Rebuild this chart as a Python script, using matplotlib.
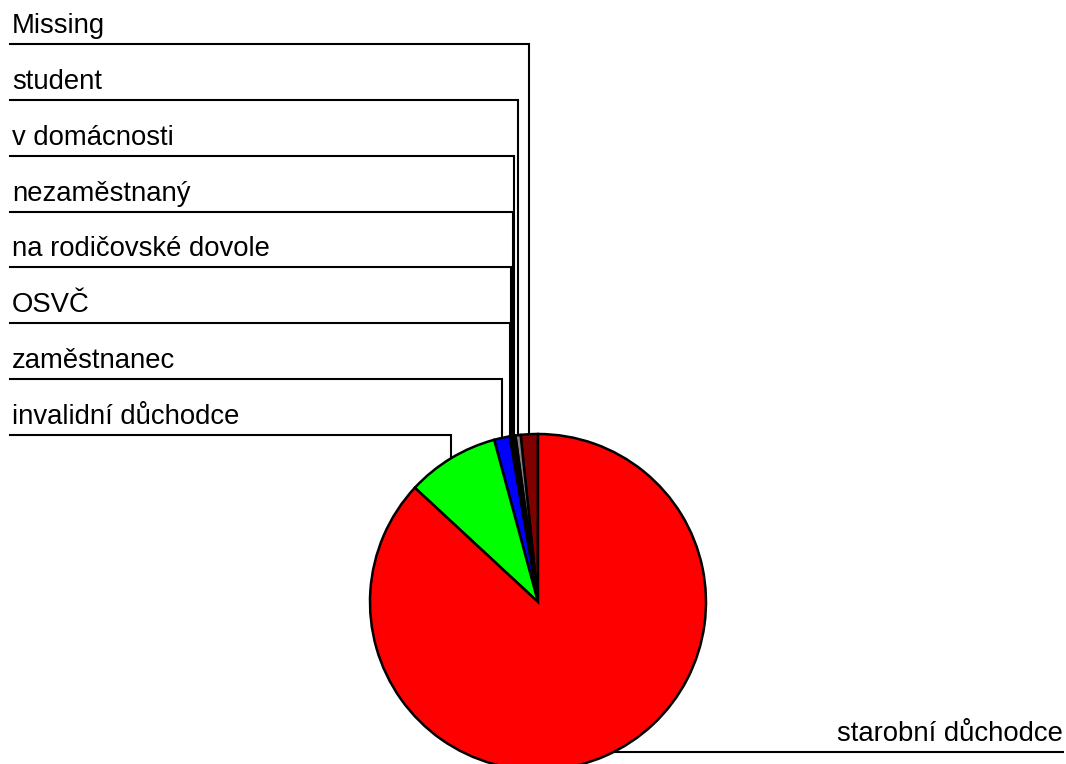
import numpy as np
import matplotlib.pyplot as plt

plt.rcParams['font.family'] = ['Liberation Sans', 'DejaVu Sans']

# podíly jednotlivých skupin (v %), pořadí proti směru hodinových ručiček od vrcholu
labels = ['Missing', 'student', 'v domácnosti', 'nezaměstnaný',
          'na rodičovské dovole', 'OSVČ', 'zaměstnanec',
          'invalidní důchodce', 'starobní důchodce']
shares = [1.65, 0.5, 0.2, 0.15, 0.1, 0.1, 1.5, 8.9, 86.9]
colors = ['#800000', '#808080', '#000000', '#000000', '#000000',
          '#000000', '#0000FF', '#00FF00', '#FF0000']

W, H = 1066, 764
fig = plt.figure(figsize=(W / 100, H / 100), dpi=100)
ax = fig.add_axes([0, 0, 1, 1])

# střed a poloměr koláče v pixelech (y odspodu)
cx, cy, r = 538, H - 602, 168

wedges, _ = ax.pie(shares, colors=colors, startangle=90, counterclock=True,
                   center=(cx, cy), radius=r,
                   wedgeprops=dict(edgecolor='black', linewidth=1.8))

# popisky vlevo s vodicími čarami
n_left = len(labels) - 1
line_ys = np.linspace(H - 44, H - 435, n_left)
for w, lab, ly in zip(wedges[:n_left], labels[:n_left], line_ys):
    mid = np.deg2rad((w.theta1 + w.theta2) / 2)
    px = cx + r * np.cos(mid)
    py = cy + r * np.sin(mid)
    ax.plot([10, px, px], [ly, ly, py], color='black', lw=1.5,
            solid_joinstyle='miter', zorder=0)
    ax.text(12, ly + 11, lab, fontsize=19.8, ha='left', va='baseline')

# popisek vpravo dole
w = wedges[-1]
mid = np.deg2rad((w.theta1 + w.theta2) / 2)
px = cx + r * np.cos(mid)
py = cy + r * np.sin(mid) + 4
ax.plot([px - 20, 1063], [py, py], color='black', lw=1.5, zorder=0)
ax.text(1063, py + 11, labels[-1], fontsize=19.8, ha='right', va='baseline')

ax.set_xlim(0, W)
ax.set_ylim(0, H)
ax.set_aspect('equal')
ax.axis('off')

fig.savefig('out.png', dpi=100, facecolor='white')
